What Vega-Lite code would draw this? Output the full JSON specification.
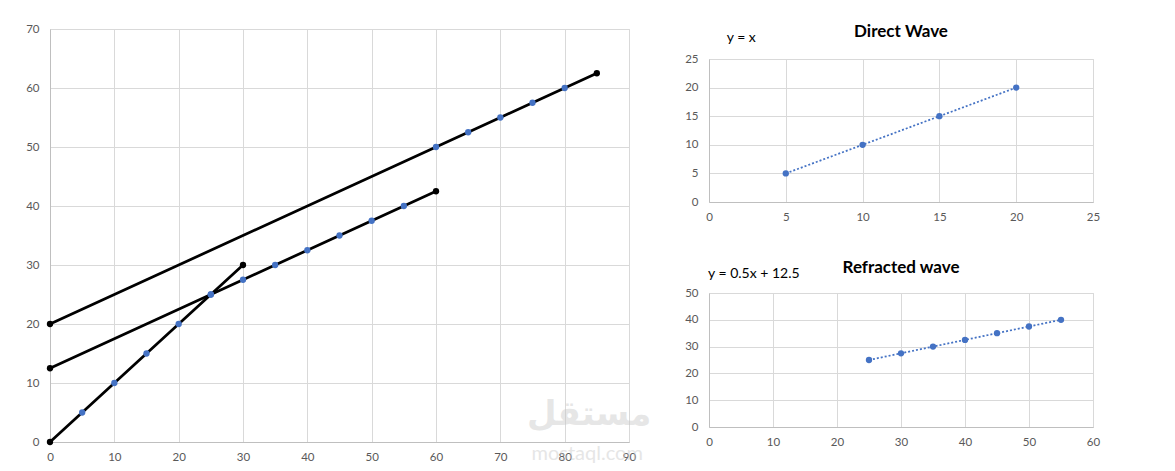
{
  "$schema": "https://vega.github.io/schema/vega-lite/v6.json",
  "background": "white",
  "padding": {"left": 25, "top": 22, "right": 0, "bottom": 0},
  "bounds": "flush",
  "spacing": 80,
  "config": {
    "font": "Lato",
    "view": {"stroke": "#d9d9d9", "strokeWidth": 1},
    "axis": {
      "gridColor": "#d9d9d9",
      "gridWidth": 1,
      "domainColor": "#bfbfbf",
      "domainWidth": 1,
      "ticks": false,
      "labelColor": "#595959",
      "labelFont": "Lato",
      "labelFontSize": 11.5,
      "labelFlush": false,
      "labelOverlap": false,
      "title": null
    },
    "axisX": {"labelPadding": 9},
    "axisY": {"labelPadding": 11},
    "title": {"font": "Lato", "fontSize": 17, "fontWeight": "bold", "color": "#000000", "anchor": "middle", "offset": -10}
  },
  "datasets": {
    "main": [
      {"line": "A", "x": 0, "y": 0, "kind": "end"},
      {"line": "A", "x": 5, "y": 5, "kind": "pt"},
      {"line": "A", "x": 10, "y": 10, "kind": "pt"},
      {"line": "A", "x": 15, "y": 15, "kind": "pt"},
      {"line": "A", "x": 20, "y": 20, "kind": "pt"},
      {"line": "A", "x": 25, "y": 25, "kind": "pt"},
      {"line": "A", "x": 30, "y": 30, "kind": "end"},
      {"line": "B", "x": 0, "y": 12.5, "kind": "end"},
      {"line": "B", "x": 25, "y": 25, "kind": "pt"},
      {"line": "B", "x": 30, "y": 27.5, "kind": "pt"},
      {"line": "B", "x": 35, "y": 30, "kind": "pt"},
      {"line": "B", "x": 40, "y": 32.5, "kind": "pt"},
      {"line": "B", "x": 45, "y": 35, "kind": "pt"},
      {"line": "B", "x": 50, "y": 37.5, "kind": "pt"},
      {"line": "B", "x": 55, "y": 40, "kind": "pt"},
      {"line": "B", "x": 60, "y": 42.5, "kind": "end"},
      {"line": "C", "x": 0, "y": 20, "kind": "end"},
      {"line": "C", "x": 60, "y": 50, "kind": "pt"},
      {"line": "C", "x": 65, "y": 52.5, "kind": "pt"},
      {"line": "C", "x": 70, "y": 55, "kind": "pt"},
      {"line": "C", "x": 75, "y": 57.5, "kind": "pt"},
      {"line": "C", "x": 80, "y": 60, "kind": "pt"},
      {"line": "C", "x": 85, "y": 62.5, "kind": "end"}
    ],
    "direct": [
      {"x": 5, "y": 5},
      {"x": 10, "y": 10},
      {"x": 15, "y": 15},
      {"x": 20, "y": 20}
    ],
    "refracted": [
      {"x": 25, "y": 25},
      {"x": 30, "y": 27.5},
      {"x": 35, "y": 30},
      {"x": 40, "y": 32.5},
      {"x": 45, "y": 35},
      {"x": 50, "y": 37.5},
      {"x": 55, "y": 40}
    ],
    "empty": []
  },
  "hconcat": [
    {
      "width": 579,
      "height": 413,
      "layer": [
        {
          "data": {"name": "main"},
          "mark": {"type": "line", "color": "#000000", "strokeWidth": 2.75},
          "encoding": {
            "x": {"field": "x", "type": "quantitative", "scale": {"domain": [0, 90], "nice": false}, "axis": {"values": [0, 10, 20, 30, 40, 50, 60, 70, 80, 90]}},
            "y": {"field": "y", "type": "quantitative", "scale": {"domain": [0, 70], "nice": false}, "axis": {"values": [0, 10, 20, 30, 40, 50, 60, 70]}},
            "detail": {"field": "line"},
            "order": {"field": "x"}
          }
        },
        {
          "data": {"name": "main"},
          "mark": {"type": "circle", "size": 40, "opacity": 1},
          "encoding": {
            "x": {"field": "x", "type": "quantitative", "scale": {"domain": [0, 90], "nice": false}, "axis": {"values": [0, 10, 20, 30, 40, 50, 60, 70, 80, 90]}},
            "y": {"field": "y", "type": "quantitative", "scale": {"domain": [0, 70], "nice": false}, "axis": {"values": [0, 10, 20, 30, 40, 50, 60, 70]}},
            "color": {"field": "kind", "type": "nominal", "scale": {"domain": ["end", "pt"], "range": ["#000000", "#4472c4"]}, "legend": null}
          }
        },
        {
          "data": {"values": [{"t": "مستقل"}]},
          "mark": {"type": "text", "font": "DejaVu Sans", "fontSize": 34, "fontWeight": "bold", "color": "#c8c8c8", "opacity": 0.45, "clip": false},
          "encoding": {
            "x": {"datum": 83.8, "type": "quantitative", "axis": {"values": [0, 10, 20, 30, 40, 50, 60, 70, 80, 90]}},
            "y": {"datum": 4.6, "type": "quantitative", "axis": {"values": [0, 10, 20, 30, 40, 50, 60, 70]}},
            "text": {"field": "t"}
          }
        },
        {
          "data": {"values": [{"t": "mostaql.com"}]},
          "mark": {"type": "text", "font": "Lato", "fontSize": 20, "color": "#c8c8c8", "opacity": 0.45, "clip": false},
          "encoding": {
            "x": {"datum": 83.5, "type": "quantitative", "axis": {"values": [0, 10, 20, 30, 40, 50, 60, 70, 80, 90]}},
            "y": {"datum": -2, "type": "quantitative", "axis": {"values": [0, 10, 20, 30, 40, 50, 60, 70]}},
            "text": {"field": "t"}
          }
        }
      ]
    },
    {
      "bounds": "flush",
      "spacing": 29,
      "vconcat": [
        {
          "width": 384,
          "height": 1,
          "view": {"stroke": null},
          "data": {"name": "empty"},
          "mark": {"type": "circle", "opacity": 0},
          "encoding": {}
        },
        {
          "bounds": "flush",
          "spacing": 91,
          "vconcat": [
            {
              "width": 384,
              "height": 143,
              "title": {"text": "Direct Wave"},
              "layer": [
                {
                  "data": {"name": "direct"},
                  "mark": {"type": "line", "color": "#4472c4", "strokeWidth": 1.75, "strokeDash": [2, 2]},
                  "encoding": {
                    "x": {"field": "x", "type": "quantitative", "scale": {"domain": [0, 25], "nice": false}, "axis": {"values": [0, 5, 10, 15, 20, 25]}},
                    "y": {"field": "y", "type": "quantitative", "scale": {"domain": [0, 25], "nice": false}, "axis": {"values": [0, 5, 10, 15, 20, 25]}}
                  }
                },
                {
                  "data": {"name": "direct"},
                  "mark": {"type": "circle", "size": 40, "opacity": 1, "color": "#4472c4"},
                  "encoding": {
                    "x": {"field": "x", "type": "quantitative", "scale": {"domain": [0, 25], "nice": false}, "axis": {"values": [0, 5, 10, 15, 20, 25]}},
                    "y": {"field": "y", "type": "quantitative", "scale": {"domain": [0, 25], "nice": false}, "axis": {"values": [0, 5, 10, 15, 20, 25]}}
                  }
                },
                {
                  "data": {"values": [{"t": "y = x"}]},
                  "mark": {"type": "text", "fontSize": 14, "color": "#000000", "clip": false},
                  "encoding": {
                    "x": {"datum": 2.1, "type": "quantitative", "axis": {"values": [0, 5, 10, 15, 20, 25]}},
                    "y": {"datum": 28.7, "type": "quantitative", "axis": {"values": [0, 5, 10, 15, 20, 25]}},
                    "text": {"field": "t"}
                  }
                }
              ]
            },
            {
              "width": 384,
              "height": 134,
              "title": {"text": "Refracted wave"},
              "layer": [
                {
                  "data": {"name": "refracted"},
                  "mark": {"type": "line", "color": "#4472c4", "strokeWidth": 1.75, "strokeDash": [2, 2]},
                  "encoding": {
                    "x": {"field": "x", "type": "quantitative", "scale": {"domain": [0, 60], "nice": false}, "axis": {"values": [0, 10, 20, 30, 40, 50, 60]}},
                    "y": {"field": "y", "type": "quantitative", "scale": {"domain": [0, 50], "nice": false}, "axis": {"values": [0, 10, 20, 30, 40, 50]}}
                  }
                },
                {
                  "data": {"name": "refracted"},
                  "mark": {"type": "circle", "size": 40, "opacity": 1, "color": "#4472c4"},
                  "encoding": {
                    "x": {"field": "x", "type": "quantitative", "scale": {"domain": [0, 60], "nice": false}, "axis": {"values": [0, 10, 20, 30, 40, 50, 60]}},
                    "y": {"field": "y", "type": "quantitative", "scale": {"domain": [0, 50], "nice": false}, "axis": {"values": [0, 10, 20, 30, 40, 50]}}
                  }
                },
                {
                  "data": {"values": [{"t": "y = 0.5x + 12.5"}]},
                  "mark": {"type": "text", "fontSize": 14, "color": "#000000", "clip": false},
                  "encoding": {
                    "x": {"datum": 7.0, "type": "quantitative", "axis": {"values": [0, 10, 20, 30, 40, 50, 60]}},
                    "y": {"datum": 57.1, "type": "quantitative", "axis": {"values": [0, 10, 20, 30, 40, 50]}},
                    "text": {"field": "t"}
                  }
                }
              ]
            }
          ]
        }
      ]
    }
  ]
}
